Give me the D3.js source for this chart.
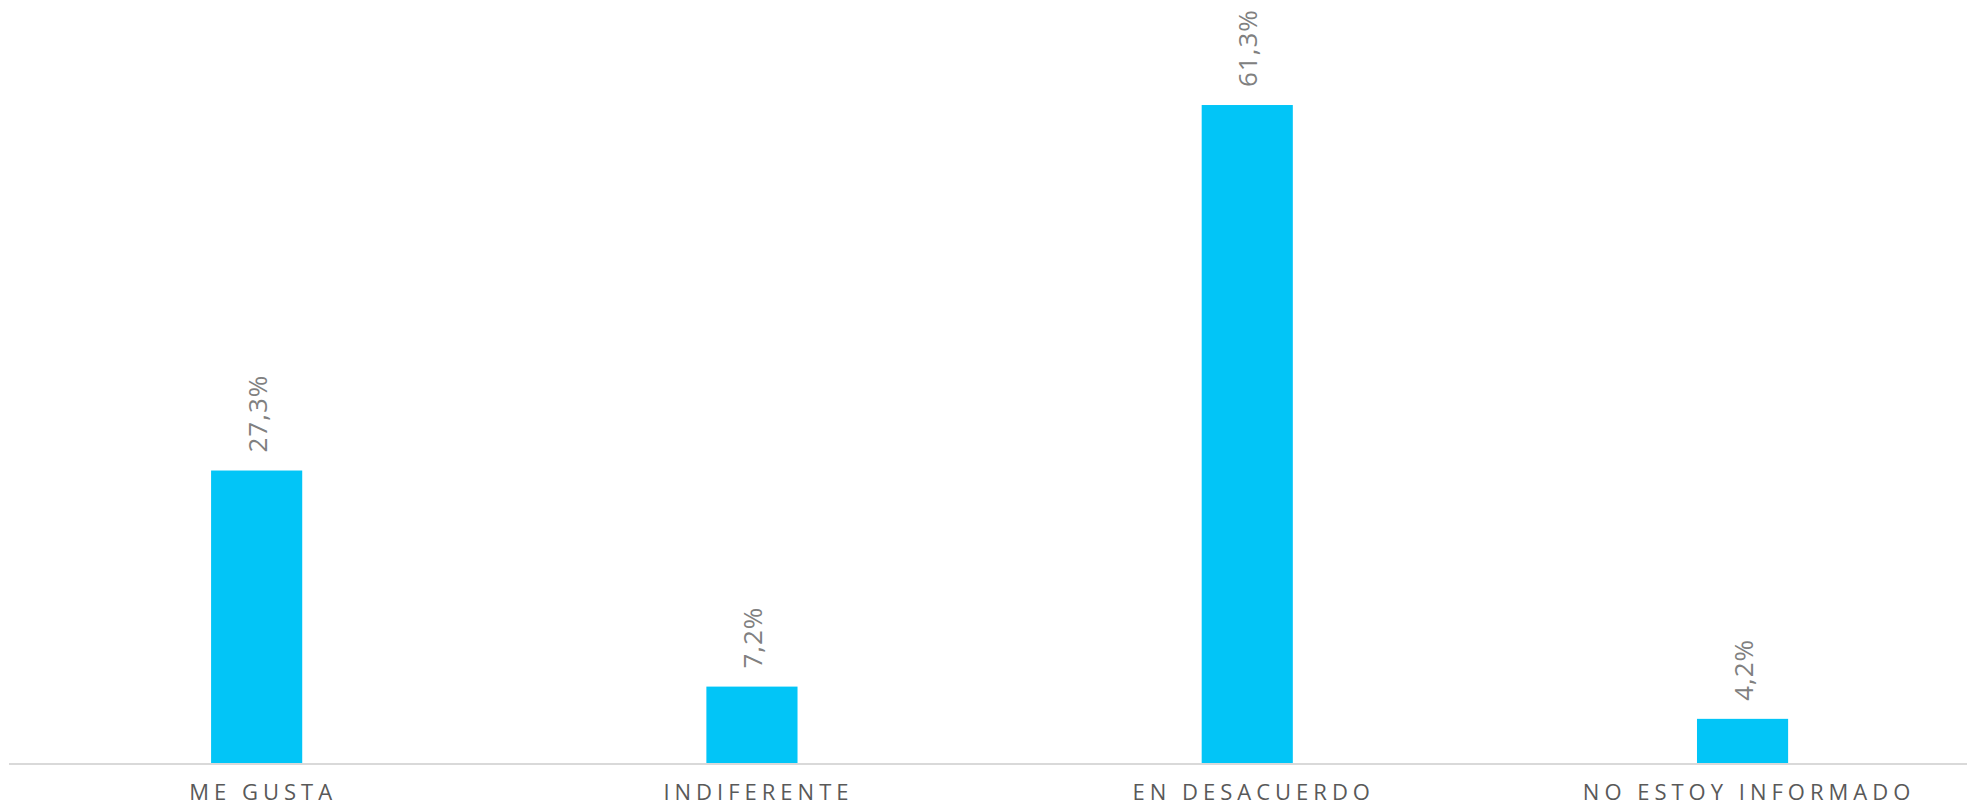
<!DOCTYPE html>
<html><head><meta charset="utf-8">
<script src="https://cdn.jsdelivr.net/npm/d3@7"></script>
<style>html,body{margin:0;padding:0;background:#fff;}svg{display:block;}</style>
</head><body>
<script>
const categories = ["ME GUSTA", "INDIFERENTE", "EN DESACUERDO", "NO ESTOY INFORMADO"];
const values = [27.3, 7.2, 61.3, 4.2];
const valueLabels = ["27,3%", "7,2%", "61,3%", "4,2%"];

const W = 1967, H = 807;
const svg = d3.select("body").append("svg").attr("width", W).attr("height", H);
const baseY = 764;
const x = d3.scaleBand().domain(categories).range([9, 1990.2]).paddingInner(0.816).paddingOuter(0.408);
const y = d3.scaleLinear().domain([0, 65]).range([baseY, baseY - 65 * 10.75]);

svg.selectAll("rect.bar").data(values).join("rect")
  .attr("x", (d, i) => x(categories[i]))
  .attr("width", x.bandwidth())
  .attr("y", d => y(d))
  .attr("height", d => y(0) - y(d))
  .attr("fill", "#02C5F7");

svg.append("line").attr("x1", 9).attr("x2", W).attr("y1", baseY).attr("y2", baseY)
  .attr("stroke", "#d9d9d9").attr("stroke-width", 2);

svg.selectAll("text.val").data(values).join("text")
  .attr("transform", (d, i) => `translate(${x(categories[i]) + x.bandwidth() / 2},${y(d) - 18}) rotate(-90)`)
  .attr("text-anchor", "start").attr("dominant-baseline", "central")
  .style("font-family", "'Open Sans', sans-serif").style("font-size", "26px")
  .style("letter-spacing", "1px").attr("fill", "#808080")
  .text((d, i) => valueLabels[i]);

svg.selectAll("text.cat").data(categories).join("text")
  .attr("x", d => x(d) + x.bandwidth() / 2 + 6.5)
  .attr("y", 800)
  .attr("text-anchor", "middle")
  .style("font-family", "'Open Sans', sans-serif").style("font-size", "22px")
  .style("letter-spacing", "5px").attr("fill", "#595959")
  .text(d => d);
</script>
</body></html>
